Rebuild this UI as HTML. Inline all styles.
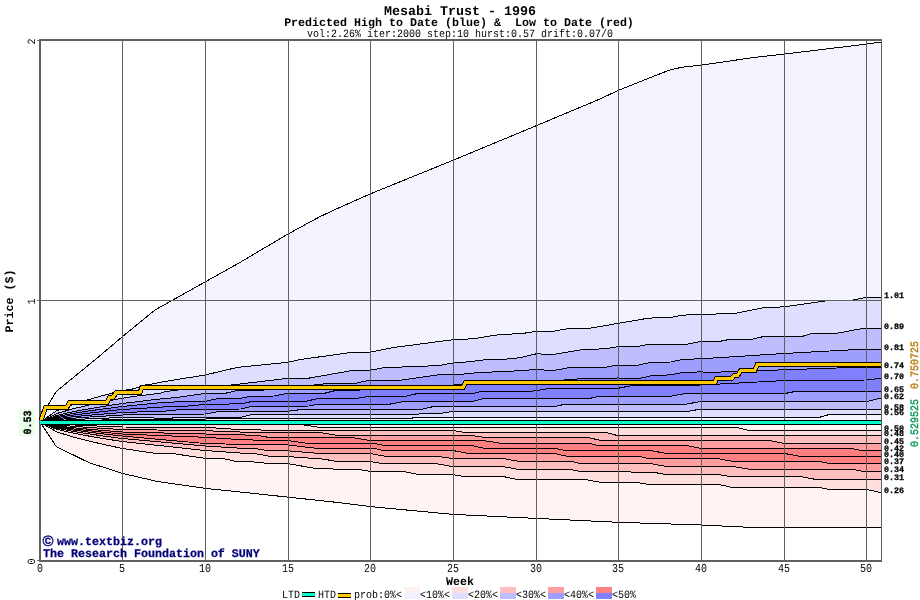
<!DOCTYPE html>
<html><head><meta charset="utf-8"><title>Mesabi Trust - 1996</title>
<style>
html,body{margin:0;padding:0;background:#fff;}
svg{display:block;}
text{font-family:"Liberation Mono","DejaVu Sans Mono",monospace;fill:#000;}
.b{font-weight:bold;}
.t{font-size:13.333px;}
.m{font-size:11.667px;}
.s{font-size:10px;}
.x{font-size:8.333px;}
.c{stroke:#000;stroke-width:1;fill:none;stroke-linejoin:miter;}
.g{stroke:#606060;stroke-width:1;fill:none;}
</style></head><body>
<svg width="920" height="600" viewBox="0 0 920 600" shape-rendering="crispEdges">
<rect x="0" y="0" width="920" height="600" fill="#fff"/>

<path d="M40.0,422.0 L47.0,407.0 L56.0,391.7 L96.0,359.0 L122.0,337.0 L155.0,310.0 L205.0,282.0 L239.0,263.0 L288.0,234.0 L320.0,216.6 L335.0,209.6 L370.0,194.0 L453.0,160.3 L536.0,125.8 L600.0,99.0 L618.0,90.5 L669.0,70.2 L682.0,67.2 L701.0,65.2 L753.0,57.6 L784.0,54.1 L866.0,44.2 L881.0,42.0 L881.0,422.5 L40.0,422.5 Z" fill="#f4f4ff"/>
<path d="M40.0,422.3 L56.5,410.8 L73.1,404.4 L89.6,399.3 L106.1,394.7 L122.0,390.5 L131.0,389.5 L145.0,385.0 L151.0,384.3 L156.0,383.3 L160.0,382.3 L205.0,375.0 L237.4,367.4 L288.0,362.3 L300.0,359.6 L350.0,352.6 L370.0,352.2 L394.3,347.4 L453.0,339.7 L472.6,338.8 L501.3,334.3 L520.0,333.8 L536.0,331.5 L554.0,331.2 L568.3,328.5 L590.4,328.1 L618.0,323.4 L648.8,318.1 L671.0,317.5 L683.0,315.1 L701.0,314.6 L736.0,313.2 L764.4,307.5 L784.0,306.9 L828.8,300.5 L853.0,300.0 L865.0,297.5 L866.0,297.5 L881.0,297.3 L881.0,422.5 L40.0,422.5 Z" fill="#dedeff"/>
<path d="M40.0,422.3 L56.5,413.6 L73.1,408.8 L89.6,404.9 L106.1,401.4 L122.0,398.3 L135.0,396.3 L150.0,394.5 L160.0,393.2 L165.0,391.6 L175.0,390.4 L186.0,388.8 L205.0,387.5 L226.7,385.5 L257.0,382.0 L288.0,378.3 L305.6,378.7 L350.0,370.9 L370.0,370.2 L383.9,367.7 L438.7,365.6 L453.0,363.0 L470.0,361.7 L485.7,359.7 L506.5,359.1 L520.0,357.7 L536.0,353.9 L554.0,354.3 L584.4,349.3 L604.5,348.9 L618.0,346.6 L638.7,346.2 L648.8,344.2 L687.0,344.2 L701.0,341.3 L720.0,341.3 L730.0,339.3 L752.0,339.3 L764.4,336.3 L784.0,336.2 L802.6,336.3 L810.7,333.9 L836.8,333.3 L865.0,328.0 L866.0,328.3 L881.0,328.3 L881.0,422.5 L40.0,422.5 Z" fill="#bebeff"/>
<path d="M40.0,422.3 L56.5,415.5 L73.1,411.7 L89.6,408.7 L106.1,406.0 L122.0,403.5 L165.0,398.4 L175.6,397.7 L205.0,393.5 L225.7,393.2 L235.6,390.9 L256.8,390.6 L288.0,388.0 L324.0,383.9 L355.0,383.4 L370.0,380.0 L402.0,380.0 L438.7,374.8 L453.0,375.0 L483.0,372.2 L506.5,371.7 L520.0,370.4 L536.0,369.7 L554.0,370.4 L568.3,367.8 L604.5,367.4 L618.0,365.0 L638.7,365.0 L650.8,362.3 L671.0,362.0 L683.0,359.3 L701.0,358.8 L784.0,353.5 L866.0,349.0 L881.0,349.0 L881.0,422.5 L40.0,422.5 Z" fill="#9e9eff"/>
<path d="M40.0,422.3 L56.5,416.6 L73.1,413.4 L89.6,410.8 L106.1,408.6 L122.0,406.5 L165.0,402.2 L205.0,401.4 L218.7,398.4 L242.0,398.1 L249.7,396.3 L273.8,396.0 L286.5,393.5 L288.0,393.7 L324.0,393.4 L333.5,391.0 L356.6,390.7 L362.0,389.6 L370.0,389.0 L453.0,385.0 L536.0,383.0 L573.0,379.1 L618.0,378.0 L637.6,378.7 L651.3,375.8 L671.0,374.8 L682.6,372.4 L701.0,371.9 L710.0,372.4 L784.0,369.8 L866.0,367.0 L881.0,367.0 L881.0,422.5 L40.0,422.5 Z" fill="#8080ff"/>
<path d="M40.0,422.3 L56.5,417.7 L73.1,415.1 L89.6,413.0 L106.1,411.2 L122.0,409.5 L165.0,406.9 L186.0,406.2 L205.0,404.4 L241.3,403.8 L251.0,401.7 L288.0,401.5 L306.0,401.3 L319.2,398.2 L358.0,398.2 L368.8,396.4 L370.0,396.5 L405.5,396.4 L418.0,393.4 L453.0,393.4 L473.0,393.4 L482.0,391.4 L530.0,391.4 L536.0,390.6 L549.6,388.5 L618.0,388.3 L633.7,385.2 L688.5,385.2 L701.0,385.0 L784.0,380.6 L866.0,380.0 L881.0,378.3 L881.0,422.5 L40.0,422.5 Z" fill="#8080ff"/>
<path d="M40.0,422.3 L56.5,418.7 L73.1,416.8 L89.6,415.2 L106.1,413.8 L122.0,412.5 L165.0,411.1 L183.4,409.3 L205.0,409.2 L241.3,409.0 L251.0,406.5 L288.0,406.4 L309.0,406.0 L317.0,404.3 L370.0,404.3 L389.0,404.3 L402.8,401.6 L453.0,401.6 L471.8,401.6 L484.0,398.6 L536.0,398.6 L588.7,398.7 L598.5,396.3 L618.0,396.3 L670.0,396.3 L682.6,394.0 L701.0,393.5 L784.0,393.1 L787.0,393.1 L796.0,391.3 L866.0,391.3 L881.0,391.3 L881.0,422.5 L40.0,422.5 Z" fill="#9e9eff"/>
<path d="M40.0,422.3 L56.5,419.7 L73.1,418.2 L89.6,417.0 L106.1,416.0 L122.0,415.0 L165.0,414.7 L205.0,414.0 L218.7,411.6 L288.0,411.2 L300.0,409.7 L370.0,409.7 L415.0,409.7 L423.0,409.0 L434.5,406.3 L453.0,406.3 L536.0,406.5 L555.4,406.5 L565.2,404.1 L618.0,404.1 L686.6,404.1 L700.3,401.6 L701.0,401.5 L784.0,401.5 L866.0,401.5 L867.0,401.5 L881.0,398.1 L881.0,422.5 L40.0,422.5 Z" fill="#bebeff"/>
<path d="M40.0,422.3 L56.5,420.6 L73.1,419.6 L89.6,418.8 L106.1,418.1 L122.0,417.5 L165.0,418.2 L205.0,417.2 L241.3,417.2 L251.0,414.7 L288.0,414.6 L370.0,414.5 L438.5,413.8 L452.0,411.4 L453.0,411.4 L536.0,411.5 L618.0,411.5 L686.6,411.6 L698.3,409.5 L701.0,409.4 L784.0,409.3 L866.0,409.3 L881.0,409.3 L881.0,422.5 L40.0,422.5 Z" fill="#dedeff"/>
<path d="M40.0,422.3 L56.5,421.3 L73.1,420.7 L89.6,420.3 L106.1,419.9 L122.0,419.5 L205.0,419.0 L288.0,418.7 L370.0,419.0 L410.0,418.6 L416.0,417.2 L453.0,417.2 L536.0,417.4 L618.0,417.5 L701.0,417.3 L784.0,417.3 L819.5,417.3 L831.0,414.0 L866.0,414.0 L881.0,414.0 L881.0,422.5 L40.0,422.5 Z" fill="#f4f4ff"/>
<path d="M40.0,422.0 L56.3,446.6 L88.9,462.6 L122.5,473.4 L157.4,481.5 L205.6,488.4 L248.7,492.9 L288.5,497.2 L340.0,502.7 L370.4,506.6 L453.2,514.4 L536.4,518.4 L618.6,522.3 L701.0,525.0 L760.0,527.8 L881.0,527.8 L881.0,422.5 L40.0,422.5 Z" fill="#fff3f3"/>
<path d="M40.0,422.3 L56.5,431.8 L73.1,437.0 L89.6,441.2 L106.1,445.0 L122.0,448.4 L154.0,453.2 L175.0,453.9 L205.0,458.3 L224.5,458.8 L237.2,461.7 L258.0,462.1 L267.8,463.7 L288.0,463.7 L318.4,468.9 L357.5,469.2 L370.0,471.3 L405.8,471.9 L418.8,474.6 L453.0,474.6 L465.3,476.7 L505.0,476.9 L517.2,479.5 L536.0,479.5 L585.0,479.5 L600.4,482.3 L618.0,482.5 L638.7,482.8 L648.3,484.4 L701.0,484.4 L718.4,484.4 L733.0,487.6 L784.0,487.7 L820.3,487.7 L829.7,489.5 L866.0,489.6 L867.0,489.6 L881.0,492.6 L881.0,422.5 L40.0,422.5 Z" fill="#ffdede"/>
<path d="M40.0,422.3 L56.5,429.3 L73.1,433.1 L89.6,436.2 L106.1,439.0 L122.0,441.5 L205.0,450.5 L245.0,453.4 L256.4,453.9 L269.5,456.2 L288.0,456.6 L323.3,459.1 L334.7,461.1 L370.0,461.5 L383.0,463.7 L438.4,464.0 L453.0,466.7 L505.0,467.0 L517.2,469.2 L536.0,469.4 L571.9,469.7 L581.6,471.9 L618.0,471.9 L653.0,472.2 L666.2,474.6 L701.0,474.6 L718.4,474.6 L731.4,476.7 L784.0,476.7 L801.7,476.7 L815.0,479.3 L866.0,479.3 L881.0,479.3 L881.0,422.5 L40.0,422.5 Z" fill="#ffbebe"/>
<path d="M40.0,422.3 L56.5,428.2 L73.1,431.4 L89.6,434.0 L106.1,436.4 L122.0,438.5 L205.0,446.0 L245.0,448.5 L258.0,449.0 L267.8,450.7 L288.0,450.8 L318.4,453.4 L370.0,453.5 L384.6,456.2 L440.0,456.7 L453.0,458.5 L505.0,458.8 L517.2,461.1 L536.0,461.3 L571.9,461.6 L581.6,463.7 L618.0,463.7 L653.0,464.0 L666.2,466.5 L701.0,466.5 L733.0,466.5 L749.4,469.2 L784.0,469.3 L852.3,469.3 L863.0,471.3 L866.0,471.3 L881.0,471.3 L881.0,422.5 L40.0,422.5 Z" fill="#ff9e9e"/>
<path d="M40.0,422.3 L56.5,427.3 L73.1,430.0 L89.6,432.2 L106.1,434.2 L122.0,436.0 L205.0,443.5 L245.0,444.5 L288.0,445.0 L316.7,448.3 L370.0,448.3 L374.0,448.3 L383.3,450.5 L453.0,450.7 L453.9,450.7 L467.7,453.4 L536.0,453.4 L554.0,453.4 L567.0,456.2 L618.0,456.2 L638.7,456.2 L648.0,458.6 L701.0,458.7 L718.4,458.8 L733.0,461.4 L784.0,461.5 L820.3,461.6 L829.7,463.7 L866.0,463.7 L881.0,463.7 L881.0,422.5 L40.0,422.5 Z" fill="#ff8080"/>
<path d="M40.0,422.3 L56.5,426.5 L73.1,428.9 L89.6,430.8 L106.1,432.5 L122.0,434.0 L205.0,437.3 L245.0,439.9 L288.0,440.5 L307.0,443.3 L370.0,443.3 L374.0,443.3 L382.5,445.2 L453.0,445.3 L471.0,445.3 L484.0,448.3 L536.0,448.3 L555.5,448.5 L565.3,450.5 L618.0,450.5 L653.0,451.0 L666.2,453.4 L701.0,453.4 L784.0,453.4 L784.3,453.4 L798.3,456.0 L866.0,456.0 L881.0,456.0 L881.0,422.5 L40.0,422.5 Z" fill="#ff8080"/>
<path d="M40.0,422.3 L56.5,425.8 L73.1,427.7 L89.6,429.3 L106.1,430.7 L122.0,432.0 L205.0,434.0 L245.0,435.0 L258.0,435.5 L267.0,437.1 L288.0,437.3 L352.6,437.6 L369.0,440.4 L370.0,440.4 L453.0,440.4 L482.4,440.4 L500.3,443.2 L536.0,443.0 L589.8,443.6 L598.8,445.6 L618.0,445.6 L685.8,445.3 L701.0,448.5 L701.3,448.5 L784.0,448.7 L852.3,448.7 L863.0,450.7 L866.0,450.7 L881.0,450.7 L881.0,422.5 L40.0,422.5 Z" fill="#ff9e9e"/>
<path d="M40.0,422.3 L56.5,424.9 L73.1,426.3 L89.6,427.5 L106.1,428.6 L122.0,429.5 L205.0,430.7 L245.0,432.2 L288.0,432.3 L318.0,432.2 L334.7,435.0 L370.0,435.0 L453.0,435.5 L471.0,435.5 L482.4,437.1 L536.0,437.3 L586.5,437.1 L600.4,440.4 L618.0,440.4 L701.0,440.4 L769.0,440.4 L783.6,443.4 L784.0,443.4 L866.0,443.3 L881.0,443.3 L881.0,422.5 L40.0,422.5 Z" fill="#ffbebe"/>
<path d="M40.0,422.3 L56.5,424.0 L73.1,424.9 L89.6,425.7 L106.1,426.4 L122.0,427.0 L205.0,427.3 L245.0,429.9 L288.0,430.2 L370.0,430.4 L453.0,430.6 L453.9,430.6 L466.0,432.7 L536.0,432.3 L604.5,432.2 L617.5,435.5 L618.0,435.5 L701.0,435.5 L784.0,435.6 L866.0,435.7 L881.0,435.7 L881.0,422.5 L40.0,422.5 Z" fill="#ffdede"/>
<path d="M40.0,422.3 L56.5,423.3 L73.1,423.8 L89.6,424.3 L106.1,424.6 L122.0,425.0 L205.0,424.8 L288.0,424.8 L300.0,424.8 L307.0,425.2 L318.4,427.3 L370.0,427.3 L453.0,427.3 L536.0,427.3 L618.0,427.3 L701.0,427.3 L736.3,427.3 L749.4,430.6 L784.0,430.5 L866.0,430.4 L881.0,430.4 L881.0,422.5 L40.0,422.5 Z" fill="#fff3f3"/>
<path class="c" d="M40.0,422.0 L47.0,407.0 L56.0,391.7 L96.0,359.0 L122.0,337.0 L155.0,310.0 L205.0,282.0 L239.0,263.0 L288.0,234.0 L320.0,216.6 L335.0,209.6 L370.0,194.0 L453.0,160.3 L536.0,125.8 L600.0,99.0 L618.0,90.5 L669.0,70.2 L682.0,67.2 L701.0,65.2 L753.0,57.6 L784.0,54.1 L866.0,44.2 L881.0,42.0"/>
<path class="c" d="M40.0,422.3 L56.5,410.8 L73.1,404.4 L89.6,399.3 L106.1,394.7 L122.0,390.5 L131.0,389.5 L145.0,385.0 L151.0,384.3 L156.0,383.3 L160.0,382.3 L205.0,375.0 L237.4,367.4 L288.0,362.3 L300.0,359.6 L350.0,352.6 L370.0,352.2 L394.3,347.4 L453.0,339.7 L472.6,338.8 L501.3,334.3 L520.0,333.8 L536.0,331.5 L554.0,331.2 L568.3,328.5 L590.4,328.1 L618.0,323.4 L648.8,318.1 L671.0,317.5 L683.0,315.1 L701.0,314.6 L736.0,313.2 L764.4,307.5 L784.0,306.9 L828.8,300.5 L853.0,300.0 L865.0,297.5 L866.0,297.5 L881.0,297.3"/>
<path class="c" d="M40.0,422.3 L56.5,413.6 L73.1,408.8 L89.6,404.9 L106.1,401.4 L122.0,398.3 L135.0,396.3 L150.0,394.5 L160.0,393.2 L165.0,391.6 L175.0,390.4 L186.0,388.8 L205.0,387.5 L226.7,385.5 L257.0,382.0 L288.0,378.3 L305.6,378.7 L350.0,370.9 L370.0,370.2 L383.9,367.7 L438.7,365.6 L453.0,363.0 L470.0,361.7 L485.7,359.7 L506.5,359.1 L520.0,357.7 L536.0,353.9 L554.0,354.3 L584.4,349.3 L604.5,348.9 L618.0,346.6 L638.7,346.2 L648.8,344.2 L687.0,344.2 L701.0,341.3 L720.0,341.3 L730.0,339.3 L752.0,339.3 L764.4,336.3 L784.0,336.2 L802.6,336.3 L810.7,333.9 L836.8,333.3 L865.0,328.0 L866.0,328.3 L881.0,328.3"/>
<path class="c" d="M40.0,422.3 L56.5,415.5 L73.1,411.7 L89.6,408.7 L106.1,406.0 L122.0,403.5 L165.0,398.4 L175.6,397.7 L205.0,393.5 L225.7,393.2 L235.6,390.9 L256.8,390.6 L288.0,388.0 L324.0,383.9 L355.0,383.4 L370.0,380.0 L402.0,380.0 L438.7,374.8 L453.0,375.0 L483.0,372.2 L506.5,371.7 L520.0,370.4 L536.0,369.7 L554.0,370.4 L568.3,367.8 L604.5,367.4 L618.0,365.0 L638.7,365.0 L650.8,362.3 L671.0,362.0 L683.0,359.3 L701.0,358.8 L784.0,353.5 L866.0,349.0 L881.0,349.0"/>
<path class="c" d="M40.0,422.3 L56.5,416.6 L73.1,413.4 L89.6,410.8 L106.1,408.6 L122.0,406.5 L165.0,402.2 L205.0,401.4 L218.7,398.4 L242.0,398.1 L249.7,396.3 L273.8,396.0 L286.5,393.5 L288.0,393.7 L324.0,393.4 L333.5,391.0 L356.6,390.7 L362.0,389.6 L370.0,389.0 L453.0,385.0 L536.0,383.0 L573.0,379.1 L618.0,378.0 L637.6,378.7 L651.3,375.8 L671.0,374.8 L682.6,372.4 L701.0,371.9 L710.0,372.4 L784.0,369.8 L866.0,367.0 L881.0,367.0"/>
<path class="c" d="M40.0,422.3 L56.5,417.7 L73.1,415.1 L89.6,413.0 L106.1,411.2 L122.0,409.5 L165.0,406.9 L186.0,406.2 L205.0,404.4 L241.3,403.8 L251.0,401.7 L288.0,401.5 L306.0,401.3 L319.2,398.2 L358.0,398.2 L368.8,396.4 L370.0,396.5 L405.5,396.4 L418.0,393.4 L453.0,393.4 L473.0,393.4 L482.0,391.4 L530.0,391.4 L536.0,390.6 L549.6,388.5 L618.0,388.3 L633.7,385.2 L688.5,385.2 L701.0,385.0 L784.0,380.6 L866.0,380.0 L881.0,378.3"/>
<path class="c" d="M40.0,422.3 L56.5,418.7 L73.1,416.8 L89.6,415.2 L106.1,413.8 L122.0,412.5 L165.0,411.1 L183.4,409.3 L205.0,409.2 L241.3,409.0 L251.0,406.5 L288.0,406.4 L309.0,406.0 L317.0,404.3 L370.0,404.3 L389.0,404.3 L402.8,401.6 L453.0,401.6 L471.8,401.6 L484.0,398.6 L536.0,398.6 L588.7,398.7 L598.5,396.3 L618.0,396.3 L670.0,396.3 L682.6,394.0 L701.0,393.5 L784.0,393.1 L787.0,393.1 L796.0,391.3 L866.0,391.3 L881.0,391.3"/>
<path class="c" d="M40.0,422.3 L56.5,419.7 L73.1,418.2 L89.6,417.0 L106.1,416.0 L122.0,415.0 L165.0,414.7 L205.0,414.0 L218.7,411.6 L288.0,411.2 L300.0,409.7 L370.0,409.7 L415.0,409.7 L423.0,409.0 L434.5,406.3 L453.0,406.3 L536.0,406.5 L555.4,406.5 L565.2,404.1 L618.0,404.1 L686.6,404.1 L700.3,401.6 L701.0,401.5 L784.0,401.5 L866.0,401.5 L867.0,401.5 L881.0,398.1"/>
<path class="c" d="M40.0,422.3 L56.5,420.6 L73.1,419.6 L89.6,418.8 L106.1,418.1 L122.0,417.5 L165.0,418.2 L205.0,417.2 L241.3,417.2 L251.0,414.7 L288.0,414.6 L370.0,414.5 L438.5,413.8 L452.0,411.4 L453.0,411.4 L536.0,411.5 L618.0,411.5 L686.6,411.6 L698.3,409.5 L701.0,409.4 L784.0,409.3 L866.0,409.3 L881.0,409.3"/>
<path class="c" d="M40.0,422.3 L56.5,421.3 L73.1,420.7 L89.6,420.3 L106.1,419.9 L122.0,419.5 L205.0,419.0 L288.0,418.7 L370.0,419.0 L410.0,418.6 L416.0,417.2 L453.0,417.2 L536.0,417.4 L618.0,417.5 L701.0,417.3 L784.0,417.3 L819.5,417.3 L831.0,414.0 L866.0,414.0 L881.0,414.0"/>
<path class="c" d="M40.0,422.0 L56.3,446.6 L88.9,462.6 L122.5,473.4 L157.4,481.5 L205.6,488.4 L248.7,492.9 L288.5,497.2 L340.0,502.7 L370.4,506.6 L453.2,514.4 L536.4,518.4 L618.6,522.3 L701.0,525.0 L760.0,527.8 L881.0,527.8"/>
<path class="c" d="M40.0,422.3 L56.5,431.8 L73.1,437.0 L89.6,441.2 L106.1,445.0 L122.0,448.4 L154.0,453.2 L175.0,453.9 L205.0,458.3 L224.5,458.8 L237.2,461.7 L258.0,462.1 L267.8,463.7 L288.0,463.7 L318.4,468.9 L357.5,469.2 L370.0,471.3 L405.8,471.9 L418.8,474.6 L453.0,474.6 L465.3,476.7 L505.0,476.9 L517.2,479.5 L536.0,479.5 L585.0,479.5 L600.4,482.3 L618.0,482.5 L638.7,482.8 L648.3,484.4 L701.0,484.4 L718.4,484.4 L733.0,487.6 L784.0,487.7 L820.3,487.7 L829.7,489.5 L866.0,489.6 L867.0,489.6 L881.0,492.6"/>
<path class="c" d="M40.0,422.3 L56.5,429.3 L73.1,433.1 L89.6,436.2 L106.1,439.0 L122.0,441.5 L205.0,450.5 L245.0,453.4 L256.4,453.9 L269.5,456.2 L288.0,456.6 L323.3,459.1 L334.7,461.1 L370.0,461.5 L383.0,463.7 L438.4,464.0 L453.0,466.7 L505.0,467.0 L517.2,469.2 L536.0,469.4 L571.9,469.7 L581.6,471.9 L618.0,471.9 L653.0,472.2 L666.2,474.6 L701.0,474.6 L718.4,474.6 L731.4,476.7 L784.0,476.7 L801.7,476.7 L815.0,479.3 L866.0,479.3 L881.0,479.3"/>
<path class="c" d="M40.0,422.3 L56.5,428.2 L73.1,431.4 L89.6,434.0 L106.1,436.4 L122.0,438.5 L205.0,446.0 L245.0,448.5 L258.0,449.0 L267.8,450.7 L288.0,450.8 L318.4,453.4 L370.0,453.5 L384.6,456.2 L440.0,456.7 L453.0,458.5 L505.0,458.8 L517.2,461.1 L536.0,461.3 L571.9,461.6 L581.6,463.7 L618.0,463.7 L653.0,464.0 L666.2,466.5 L701.0,466.5 L733.0,466.5 L749.4,469.2 L784.0,469.3 L852.3,469.3 L863.0,471.3 L866.0,471.3 L881.0,471.3"/>
<path class="c" d="M40.0,422.3 L56.5,427.3 L73.1,430.0 L89.6,432.2 L106.1,434.2 L122.0,436.0 L205.0,443.5 L245.0,444.5 L288.0,445.0 L316.7,448.3 L370.0,448.3 L374.0,448.3 L383.3,450.5 L453.0,450.7 L453.9,450.7 L467.7,453.4 L536.0,453.4 L554.0,453.4 L567.0,456.2 L618.0,456.2 L638.7,456.2 L648.0,458.6 L701.0,458.7 L718.4,458.8 L733.0,461.4 L784.0,461.5 L820.3,461.6 L829.7,463.7 L866.0,463.7 L881.0,463.7"/>
<path class="c" d="M40.0,422.3 L56.5,426.5 L73.1,428.9 L89.6,430.8 L106.1,432.5 L122.0,434.0 L205.0,437.3 L245.0,439.9 L288.0,440.5 L307.0,443.3 L370.0,443.3 L374.0,443.3 L382.5,445.2 L453.0,445.3 L471.0,445.3 L484.0,448.3 L536.0,448.3 L555.5,448.5 L565.3,450.5 L618.0,450.5 L653.0,451.0 L666.2,453.4 L701.0,453.4 L784.0,453.4 L784.3,453.4 L798.3,456.0 L866.0,456.0 L881.0,456.0"/>
<path class="c" d="M40.0,422.3 L56.5,425.8 L73.1,427.7 L89.6,429.3 L106.1,430.7 L122.0,432.0 L205.0,434.0 L245.0,435.0 L258.0,435.5 L267.0,437.1 L288.0,437.3 L352.6,437.6 L369.0,440.4 L370.0,440.4 L453.0,440.4 L482.4,440.4 L500.3,443.2 L536.0,443.0 L589.8,443.6 L598.8,445.6 L618.0,445.6 L685.8,445.3 L701.0,448.5 L701.3,448.5 L784.0,448.7 L852.3,448.7 L863.0,450.7 L866.0,450.7 L881.0,450.7"/>
<path class="c" d="M40.0,422.3 L56.5,424.9 L73.1,426.3 L89.6,427.5 L106.1,428.6 L122.0,429.5 L205.0,430.7 L245.0,432.2 L288.0,432.3 L318.0,432.2 L334.7,435.0 L370.0,435.0 L453.0,435.5 L471.0,435.5 L482.4,437.1 L536.0,437.3 L586.5,437.1 L600.4,440.4 L618.0,440.4 L701.0,440.4 L769.0,440.4 L783.6,443.4 L784.0,443.4 L866.0,443.3 L881.0,443.3"/>
<path class="c" d="M40.0,422.3 L56.5,424.0 L73.1,424.9 L89.6,425.7 L106.1,426.4 L122.0,427.0 L205.0,427.3 L245.0,429.9 L288.0,430.2 L370.0,430.4 L453.0,430.6 L453.9,430.6 L466.0,432.7 L536.0,432.3 L604.5,432.2 L617.5,435.5 L618.0,435.5 L701.0,435.5 L784.0,435.6 L866.0,435.7 L881.0,435.7"/>
<path class="c" d="M40.0,422.3 L56.5,423.3 L73.1,423.8 L89.6,424.3 L106.1,424.6 L122.0,425.0 L205.0,424.8 L288.0,424.8 L300.0,424.8 L307.0,425.2 L318.4,427.3 L370.0,427.3 L453.0,427.3 L536.0,427.3 L618.0,427.3 L701.0,427.3 L736.3,427.3 L749.4,430.6 L784.0,430.5 L866.0,430.4 L881.0,430.4"/>
<path class="g" d="M122.5,41 V560"/>
<path class="g" d="M205.5,41 V560"/>
<path class="g" d="M288.5,41 V560"/>
<path class="g" d="M370.5,41 V560"/>
<path class="g" d="M453.5,41 V560"/>
<path class="g" d="M536.5,41 V560"/>
<path class="g" d="M618.5,41 V560"/>
<path class="g" d="M701.5,41 V560"/>
<path class="g" d="M784.5,41 V560"/>
<path class="g" d="M866.5,41 V560"/>
<path class="g" d="M41,300.5 H881"/>
<rect x="39" y="39" width="843" height="2" fill="#606060"/>
<rect x="39" y="39" width="2" height="523" fill="#606060"/>
<rect x="39" y="560" width="843" height="2" fill="#606060"/>
<rect x="881" y="39" width="1" height="523" fill="#606060"/>
<rect x="37" y="40" width="2" height="1" fill="#707070"/>
<rect x="37" y="300" width="2" height="1" fill="#707070"/>
<rect x="37" y="560" width="2" height="1" fill="#707070"/>
<path d="M41.0,420.5 L41.6,418.7 L45.6,407.3 L66.9,407.3 L69.4,402.5 L106.9,402.5 L109.4,397.5 L113.0,397.5 L116.3,392.5 L140.0,392.5 L142.0,387.5 L463.0,387.5 L465.5,382.8 L714.8,382.8 L716.5,378.5 L731.7,378.5 L734.3,375.4 L737.8,375.4 L740.9,370.4 L754.8,370.4 L757.2,364.8 L881.0,364.8" fill="none" stroke="#000" stroke-width="5" stroke-linejoin="miter"/>
<path d="M41.0,420.5 L41.6,418.7 L45.6,407.3 L66.9,407.3 L69.4,402.5 L106.9,402.5 L109.4,397.5 L113.0,397.5 L116.3,392.5 L140.0,392.5 L142.0,387.5 L463.0,387.5 L465.5,382.8 L714.8,382.8 L716.5,378.5 L731.7,378.5 L734.3,375.4 L737.8,375.4 L740.9,370.4 L754.8,370.4 L757.2,364.8 L881.0,364.8" fill="none" stroke="#ffc800" stroke-width="3" stroke-linejoin="miter"/>
<rect x="41" y="420" width="840" height="5" fill="#000"/>
<rect x="40" y="421" width="841" height="3" fill="#00ffc8"/>
<g shape-rendering="auto" text-rendering="geometricPrecision" opacity="0.999">
<text class="b t" x="460" y="14.8" text-anchor="middle">Mesabi Trust - 1996</text>
<text class="b m" x="459" y="26" text-anchor="middle" xml:space="preserve">Predicted High to Date (blue) &amp;  Low to Date (red)</text>
<text class="s" transform="translate(460,37) scale(1,1.12)" text-anchor="middle">vol:2.26% iter:2000 step:10 hurst:0.57 drift:0.07/0</text>
<text class="b m" transform="translate(13,301) rotate(-90)" text-anchor="middle">Price ($)</text>
<text class="s" transform="translate(35,41.5) rotate(-90) scale(1,1.12)" text-anchor="middle">2</text>
<text class="s" transform="translate(35,301.5) rotate(-90) scale(1,1.12)" text-anchor="middle">1</text>
<text class="s" transform="translate(35,561.5) rotate(-90) scale(1,1.12)" text-anchor="middle">0</text>
<rect x="19" y="409" width="16" height="27" fill="#e6ffe6"/>
<text class="b s" transform="translate(30.5,422.5) rotate(-90) scale(1,1.1)" text-anchor="middle" stroke="#000" stroke-width="0.3">0.53</text>
<text class="s" transform="translate(40,572) scale(1,1.22)" text-anchor="middle">0</text>
<text class="s" transform="translate(122,572) scale(1,1.22)" text-anchor="middle">5</text>
<text class="s" transform="translate(205,572) scale(1,1.22)" text-anchor="middle">10</text>
<text class="s" transform="translate(288,572) scale(1,1.22)" text-anchor="middle">15</text>
<text class="s" transform="translate(370,572) scale(1,1.22)" text-anchor="middle">20</text>
<text class="s" transform="translate(453,572) scale(1,1.22)" text-anchor="middle">25</text>
<text class="s" transform="translate(536,572) scale(1,1.22)" text-anchor="middle">30</text>
<text class="s" transform="translate(618,572) scale(1,1.22)" text-anchor="middle">35</text>
<text class="s" transform="translate(701,572) scale(1,1.22)" text-anchor="middle">40</text>
<text class="s" transform="translate(784,572) scale(1,1.22)" text-anchor="middle">45</text>
<text class="s" transform="translate(866,572) scale(1,1.22)" text-anchor="middle">50</text>
<text class="b m" x="460" y="585" text-anchor="middle">Week</text>
<text x="42.5" y="546" style="fill:#000078;stroke:#000078;stroke-width:0.3;font-family:'Liberation Sans',sans-serif;font-weight:bold;font-size:15px">©</text>
<text class="b m" x="57" y="545" style="fill:#000078;stroke:#000078;stroke-width:0.25">www.textbiz.org</text>
<text class="b m" x="43" y="557" style="fill:#000078;stroke:#000078;stroke-width:0.25">The Research Foundation of SUNY</text>
<text class="b x" x="884" y="297.5" stroke="#000" stroke-width="0.3">1.01</text>
<text class="b x" x="884" y="329.1" stroke="#000" stroke-width="0.3">0.89</text>
<text class="b x" x="884" y="349.9" stroke="#000" stroke-width="0.3">0.81</text>
<text class="b x" x="884" y="368.1" stroke="#000" stroke-width="0.3">0.74</text>
<text class="b x" x="884" y="378.5" stroke="#000" stroke-width="0.3">0.70</text>
<text class="b x" x="884" y="391.5" stroke="#000" stroke-width="0.3">0.65</text>
<text class="b x" x="884" y="399.3" stroke="#000" stroke-width="0.3">0.62</text>
<text class="b x" x="884" y="409.7" stroke="#000" stroke-width="0.3">0.58</text>
<text class="b x" x="884" y="414.9" stroke="#000" stroke-width="0.3">0.56</text>
<text class="b x" x="884" y="430.5" stroke="#000" stroke-width="0.3">0.50</text>
<text class="b x" x="884" y="435.7" stroke="#000" stroke-width="0.3">0.48</text>
<text class="b x" x="884" y="443.5" stroke="#000" stroke-width="0.3">0.45</text>
<text class="b x" x="884" y="451.3" stroke="#000" stroke-width="0.3">0.42</text>
<text class="b x" x="884" y="456.5" stroke="#000" stroke-width="0.3">0.40</text>
<text class="b x" x="884" y="464.3" stroke="#000" stroke-width="0.3">0.37</text>
<text class="b x" x="884" y="472.1" stroke="#000" stroke-width="0.3">0.34</text>
<text class="b x" x="884" y="479.9" stroke="#000" stroke-width="0.3">0.31</text>
<text class="b x" x="884" y="492.9" stroke="#000" stroke-width="0.3">0.26</text>
<text class="s" transform="translate(917.5,365) rotate(-90) scale(1,1.12)" text-anchor="middle" style="fill:#b87800;stroke:#b87800;stroke-width:0.35">0.750725</text>
<text class="s" transform="translate(917.5,423) rotate(-90) scale(1,1.12)" text-anchor="middle" style="fill:#009955;stroke:#009955;stroke-width:0.35">0.529525</text>
<text class="s" transform="translate(282,597.5) scale(1,1.12)">LTD</text>
<text class="s" transform="translate(318,597.5) scale(1,1.12)">HTD</text>
<text class="s" transform="translate(354,597.5) scale(1,1.12)">prob:0%&lt;</text>
<text class="s" transform="translate(420,597.5) scale(1,1.12)">&lt;10%&lt;</text>
<text class="s" transform="translate(468,597.5) scale(1,1.12)">&lt;20%&lt;</text>
<text class="s" transform="translate(516,597.5) scale(1,1.12)">&lt;30%&lt;</text>
<text class="s" transform="translate(564,597.5) scale(1,1.12)">&lt;40%&lt;</text>
<text class="s" transform="translate(612,597.5) scale(1,1.12)">&lt;50%</text>
</g>
<rect x="302" y="592" width="13" height="5" fill="#000"/><rect x="302" y="593" width="13" height="3" fill="#00ffc8"/>
<rect x="338" y="593" width="13" height="5" fill="#000"/><rect x="338" y="594" width="13" height="3" fill="#ffc800"/>
<rect x="404" y="587" width="16" height="6" fill="#fff0f0"/><rect x="404" y="593" width="16" height="6" fill="#f0f0ff"/>
<rect x="452" y="587" width="16" height="6" fill="#ffdede"/><rect x="452" y="593" width="16" height="6" fill="#dedeff"/>
<rect x="500" y="587" width="16" height="6" fill="#ffbebe"/><rect x="500" y="593" width="16" height="6" fill="#bebeff"/>
<rect x="548" y="587" width="16" height="6" fill="#ff9e9e"/><rect x="548" y="593" width="16" height="6" fill="#9e9eff"/>
<rect x="596" y="587" width="16" height="6" fill="#ff8080"/><rect x="596" y="593" width="16" height="6" fill="#8080ff"/>
</svg></body></html>
